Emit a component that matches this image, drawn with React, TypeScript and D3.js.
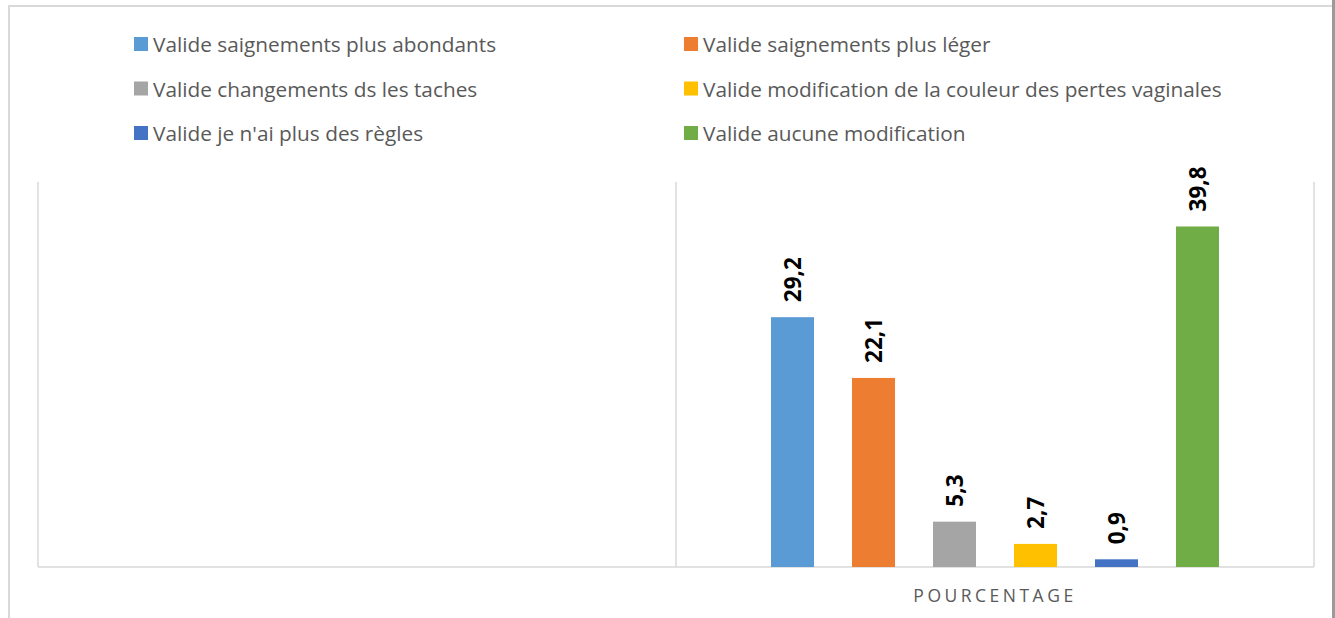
import React from 'react';
import * as d3 from 'd3';

const categories = ['', 'POURCENTAGE'];
const seriesNames = [
  'Valide saignements plus abondants',
  'Valide saignements plus léger',
  'Valide changements ds les taches',
  'Valide modification de la couleur des pertes vaginales',
  "Valide je n'ai plus des règles",
  'Valide aucune modification',
];
const seriesValues = [29.2, 22.1, 5.3, 2.7, 0.9, 39.8];
const seriesLabels = ['29,2', '22,1', '5,3', '2,7', '0,9', '39,8'];
const colors = ['#5B9BD5', '#ED7D31', '#A5A5A5', '#FFC000', '#4472C4', '#70AD47'];

const W = 1335;
const H = 618;
const plot = { left: 38, right: 1314, top: 182, bottom: 567 };
const font = '"Open Sans", "DejaVu Sans", sans-serif';

const App = () => {
  const x = d3.scaleBand().domain(categories).range([plot.left, plot.right]);
  const y = d3.scaleLinear().domain([0, 45]).range([plot.bottom, plot.top]);
  // bars sit in the second category only
  const inner = d3.scaleBand()
    .domain(seriesNames)
    .range([0, x.bandwidth()])
    .paddingInner(0.469)
    .paddingOuter(1.173);
  const cat = categories[1];

  // legend: two columns, three rows
  const legendX = d3.scaleOrdinal<number, number>().domain([0, 1]).range([134, 684]);
  const legendY = d3.scaleLinear().domain([0, 2]).range([44, 133]);

  return (
    <svg width={W} height={H} style={{ position: 'absolute', left: 0, top: 0, background: '#fff' }}>
      {/* outer frame */}
      <path d={`M9,${H} V6 H1332`} fill="none" stroke="#d9d9d9" strokeWidth={2} />
      <rect x={1332} y={0} width={3} height={H} fill="#9a9a9a" />

      {/* legend */}
      {seriesNames.map((s, i) => {
        const col = i % 2;
        const row = Math.floor(i / 2);
        const lx = legendX(col);
        const ly = legendY(row);
        return (
          <g key={s}>
            <rect x={lx} y={ly - 7} width={14} height={14} fill={colors[i]} />
            <text x={lx + 19} y={ly} dominantBaseline="central" fontFamily={font} fontSize={20.8} fill="#595959">
              {s}
            </text>
          </g>
        );
      })}

      {/* category separators */}
      {[plot.left, x(cat)!, plot.right].map((d, i) => (
        <line key={i} x1={d} x2={d} y1={plot.top} y2={plot.bottom} stroke="#d9d9d9" strokeWidth={1.5} />
      ))}
      <line x1={plot.left} x2={plot.right} y1={plot.bottom} y2={plot.bottom} stroke="#d9d9d9" strokeWidth={1.5} />

      {/* bars */}
      {seriesNames.map((s, i) => {
        const bx = x(cat)! + inner(s)!;
        const by = y(seriesValues[i]);
        const cx = bx + inner.bandwidth() / 2;
        return (
          <g key={s}>
            <rect x={bx} y={by} width={inner.bandwidth()} height={y(0) - by} fill={colors[i]} />
            <text
              transform={`translate(${cx},${by - 15}) rotate(-90)`}
              dominantBaseline="central"
              fontFamily={font}
              fontSize={22.5}
              fontWeight="bold"
              fill="#000"
            >
              {seriesLabels[i]}
            </text>
          </g>
        );
      })}

      {/* category labels */}
      {categories.map((c) => (
        <text
          key={c || 'blank'}
          x={x(c)! + x.bandwidth() / 2}
          y={595}
          textAnchor="middle"
          dominantBaseline="central"
          fontFamily={font}
          fontSize={17.5}
          letterSpacing={3.5}
          fill="#595959"
        >
          {c}
        </text>
      ))}
    </svg>
  );
};

export default App;
